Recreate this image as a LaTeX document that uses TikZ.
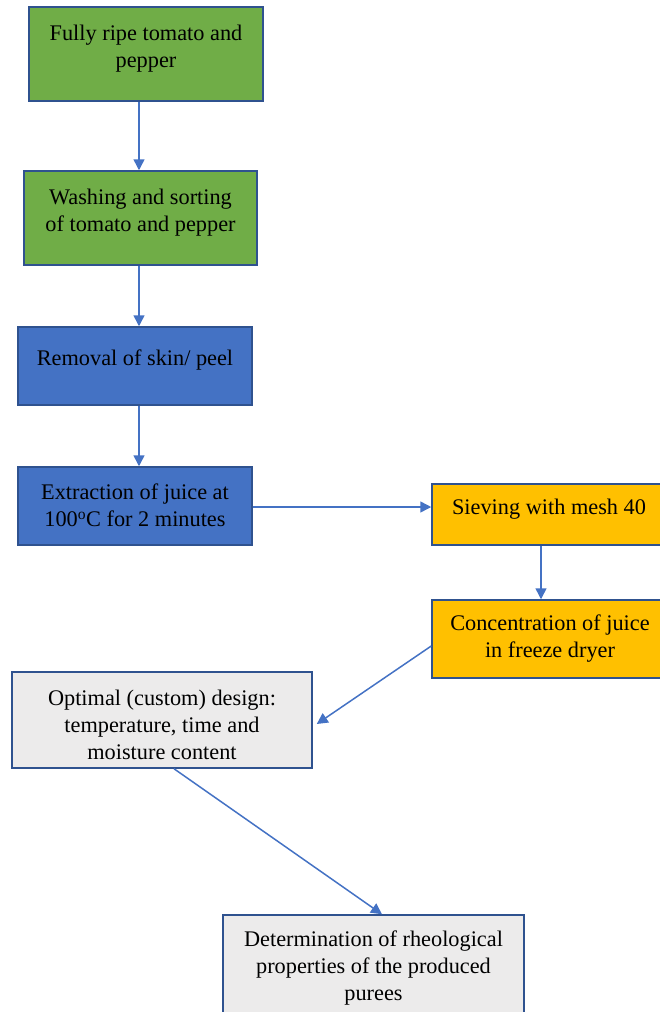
\documentclass[tikz,border=0pt]{standalone}
\usepackage{fontspec}
\setmainfont{Liberation Serif}
\usetikzlibrary{arrows.meta}
\definecolor{gfill}{HTML}{70AD47}
\definecolor{bfill}{HTML}{4472C4}
\definecolor{yfill}{HTML}{FFC000}
\definecolor{lgfill}{HTML}{ECEBEB}
\definecolor{edge}{HTML}{2F528F}
\definecolor{arrc}{HTML}{4472C4}
\tikzset{
  box/.style={draw=edge, line width=1.5pt, inner sep=0pt},
  txt/.style={align=center, font=\fontsize{22.3}{27}\selectfont, inner sep=0pt},
  arr/.style={draw=arrc, line width=1.5pt, -{Triangle[length=11pt,width=11pt]}}
}
\begin{document}
\begin{tikzpicture}[x=1pt,y=-1pt]
\useasboundingbox (0,0) rectangle (659,1012);
\node[box, fill=gfill, minimum width=234pt, minimum height=94pt] (b1) at (146,54) {};
\node[txt] (t1) at (146,49) {Fully ripe tomato and\\pepper};
\node[box, fill=gfill, minimum width=233pt, minimum height=94pt] (b2) at (140.5,218) {};
\node[txt] (t2) at (140.5,212.5) {Washing and sorting\\of tomato and pepper};
\node[box, fill=bfill, minimum width=234pt, minimum height=78pt] (b3) at (135,366) {};
\node[txt] (t3) at (135,360) {Removal of skin/ peel};
\node[box, fill=bfill, minimum width=234pt, minimum height=78pt] (b4) at (135,506) {};
\node[txt] (t4) at (135,505.5) {Extraction of juice at\\100\textsuperscript{o}C for 2 minutes};
\node[box, fill=yfill, minimum width=236pt, minimum height=61pt] (b5) at (550,514.5) {};
\node[txt] (t5) at (549,509) {Sieving with mesh 40};
\node[box, fill=yfill, minimum width=236pt, minimum height=78pt] (b6) at (550,639) {};
\node[txt] (t6) at (550,639) {Concentration of juice\\in freeze dryer};
\node[box, fill=lgfill, minimum width=300pt, minimum height=96pt] (b7) at (162,720) {};
\node[txt] (t7) at (162,725) {Optimal (custom) design:\\temperature, time and\\moisture content};
\node[box, fill=lgfill, minimum width=301pt, minimum height=100pt] (b8) at (373.5,965) {};
\node[txt] (t8) at (373.5,968) {Determination of rheological\\properties of the produced\\purees};
\draw[arr] ([xshift=-7pt]b1.south) -- ([xshift=-1.5pt]b2.north);
\draw[arr] ([xshift=-1.5pt]b2.south) -- ([xshift=4pt]b3.north);
\draw[arr] ([xshift=4pt]b3.south) -- ([xshift=4pt]b4.north);
\draw[arr] ([yshift=-1pt]b4.east) -- ([yshift=-1pt]b4.east -| b5.west);
\draw[arr] ([xshift=-9pt]b5.south) -- ([xshift=-9pt]b6.north);
\draw[arr] ([yshift=-7pt]b6.west) -- ([xshift=4pt,yshift=-4pt]b7.east);
\draw[arr] ([xshift=12pt]b7.south) -- ([xshift=8.5pt]b8.north);
\end{tikzpicture}
\end{document}
